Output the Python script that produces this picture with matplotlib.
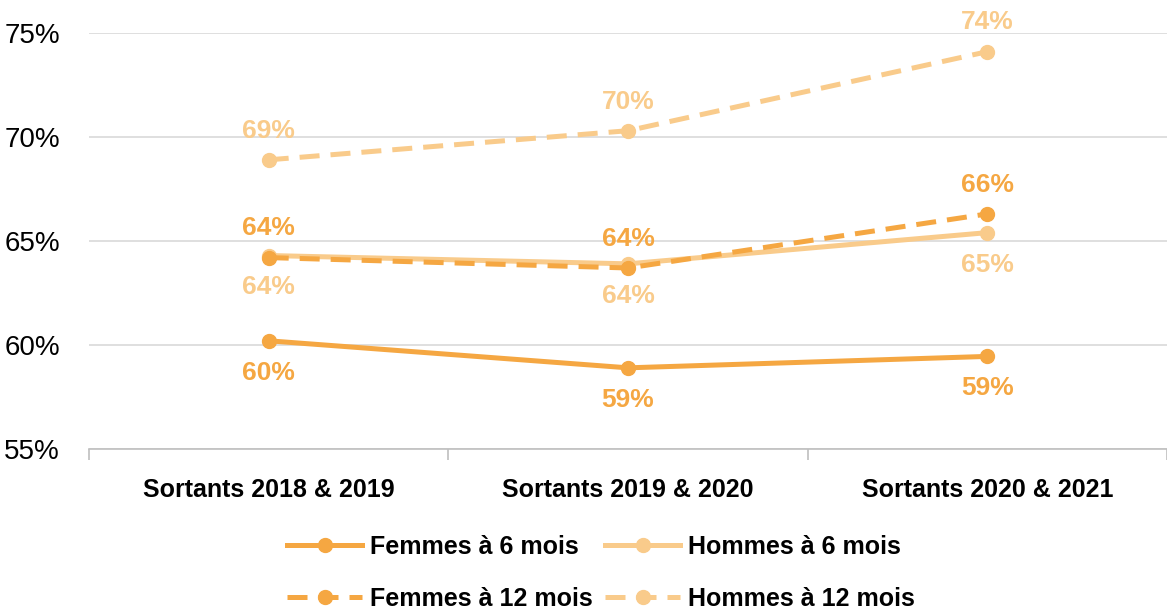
import matplotlib
matplotlib.use('agg')
import matplotlib.pyplot as plt
from matplotlib.ticker import FixedLocator, FuncFormatter

plt.rcParams['font.family'] = ['Liberation Sans', 'DejaVu Sans']

##### Data
categories = ['Sortants 2018 & 2019', 'Sortants 2019 & 2020', 'Sortants 2020 & 2021']
femmes_6 = [60.2, 58.9, 59.45]
hommes_6 = [64.3, 63.9, 65.4]
femmes_12 = [64.2, 63.7, 66.3]
hommes_12 = [68.9, 70.3, 74.1]
labels_f6 = ['60%', '59%', '59%']
labels_h6 = ['64%', '64%', '65%']
labels_f12 = ['64%', '64%', '66%']
labels_h12 = ['69%', '70%', '74%']

dark = '#F5A742'
light = '#F9CB8B'

series = [
    ('Femmes à 6 mois', femmes_6, labels_f6, dark, '-', 'below'),
    ('Hommes à 6 mois', hommes_6, labels_h6, light, '-', 'below'),
    ('Femmes à 12 mois', femmes_12, labels_f12, dark, '--', 'above'),
    ('Hommes à 12 mois', hommes_12, labels_h12, light, '--', 'above'),
]

fig = plt.figure(figsize=(11.67, 6.10), dpi=100)
ax = fig.add_axes([0.0763, 0.264, 0.9237, 0.682])

x = list(range(len(categories)))
handles = {}
for name, vals, labs, col, ls, pos in series:
    h, = ax.plot(x, vals, color=col, ls=ls, linewidth=3.6, marker='o', markersize=10,
                 label=name, clip_on=False, zorder=3,
                 dashes=(4, 2.2) if ls == '--' else (None, None))
    handles[name] = h
    for xi, v, lab in zip(x, vals, labs):
        off = 21 if pos == 'above' else -23
        ax.annotate(lab, (xi, v), xytext=(0, off), textcoords='offset points',
                    ha='center', va='center', color=col, fontsize=19,
                    fontweight='bold', annotation_clip=False)

ax.set_xlim(-0.5, 2.5)
ax.set_ylim(55, 75)
ax.set_yticks([55, 60, 65, 70, 75])
ax.yaxis.set_major_formatter(FuncFormatter(lambda v, p: '%d%%' % v))
ax.grid(axis='y', color='#D9D9D9', linewidth=1.2)
ax.set_axisbelow(True)
ax.set_xticks(x)
ax.set_xticklabels(categories, fontsize=18, fontweight='bold')
ax.xaxis.set_minor_locator(FixedLocator([-0.5, 0.5, 1.5, 2.5]))
ax.tick_params(axis='x', which='major', length=0, pad=21)
ax.tick_params(axis='x', which='minor', length=8, color='#BFBFBF', width=1.2)
ax.tick_params(axis='y', length=0, labelsize=20, pad=21)
for sp in ['top', 'right', 'left']:
    ax.spines[sp].set_visible(False)
ax.spines['bottom'].set_color('#BFBFBF')
ax.spines['bottom'].set_linewidth(1.2)

# order so that rows read: Femmes 6 / Hommes 6, then Femmes 12 / Hommes 12
order = ['Femmes à 6 mois', 'Femmes à 12 mois', 'Hommes à 6 mois', 'Hommes à 12 mois']
leg = fig.legend(handles=[handles[n] for n in order], loc='center',
                 bbox_to_anchor=(0.515, 0.061), ncol=2, frameon=False,
                 prop={'weight': 'bold', 'size': 18},
                 handlelength=3.0, columnspacing=0.5, handletextpad=0.3, labelspacing=1.1)

plt.savefig('out.png', dpi=100)
